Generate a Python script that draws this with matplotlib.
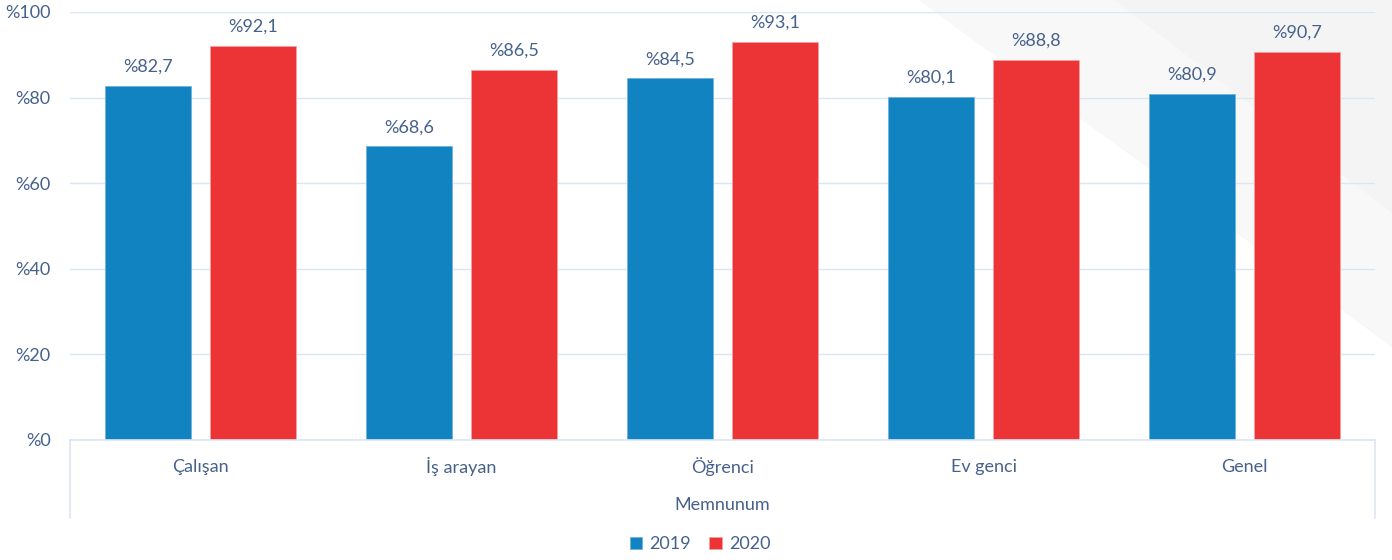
import matplotlib
matplotlib.use("Agg")
import matplotlib.pyplot as plt
import numpy as np
from matplotlib.patches import Polygon

categories = ["Çalışan", "İş arayan", "Öğrenci", "Ev genci", "Genel"]
values_2019 = [82.7, 68.6, 84.5, 80.1, 80.9]
values_2020 = [92.1, 86.5, 93.1, 88.8, 90.7]
years = ["2019", "2020"]
group_label = "Memnunum"

BLUE = "#1283c1"
RED = "#ec3335"
TEXT = "#46618c"
GRID = "#dbe6f4"

plt.rcParams["font.family"] = ["Lato", "DejaVu Sans"]

fig = plt.figure(figsize=(13.92, 5.6), dpi=100, facecolor="white")

# faint diagonal background shapes (top right), behind everything
bg = fig.add_axes([0, 0, 1, 1], zorder=-1)
bg.set_xlim(0, 1)
bg.set_ylim(0, 1)
bg.axis("off")
for pts, col in [
    ([(0.66, 1.0), (0.80, 1.0), (1.0, 0.62), (1.0, 0.38)], "#f8f8f9"),
    ([(0.80, 1.0), (1.0, 1.0), (1.0, 0.62)], "#f4f4f5"),
]:
    bg.add_patch(Polygon(pts, closed=True, facecolor=col, edgecolor="none"))

ax = fig.add_axes([0.0503, 0.2143, 0.9375, 0.7643])
ax.set_facecolor("none")

x = np.arange(len(categories))
w = 0.33
off = 0.2
b1 = ax.bar(x - off, values_2019, w, color=BLUE, edgecolor="#6fb3e0", linewidth=0.6, label=years[0], zorder=3)
b2 = ax.bar(x + off, values_2020, w, color=RED, edgecolor="#f6a0a1", linewidth=0.6, label=years[1], zorder=3)

for bars, vals in [(b1, values_2019), (b2, values_2020)]:
    for rect, v in zip(bars, vals):
        ax.annotate("%" + f"{v:.1f}".replace(".", ","),
                    (rect.get_x() + rect.get_width() / 2, rect.get_height()),
                    xytext=(0, 8), textcoords="offset points",
                    ha="center", va="bottom", fontsize=13, color=TEXT)

ax.set_xlim(-0.5, len(categories) - 0.5)
ax.set_ylim(0, 100)
ax.set_yticks(range(0, 101, 20))
ax.set_yticklabels(["%" + str(t) for t in range(0, 101, 20)], fontsize=13, color=TEXT)
ax.tick_params(axis="y", length=0, pad=14)
ax.set_xticks([])
ax.grid(axis="y", color=GRID, linewidth=1, zorder=0)
for s in ax.spines.values():
    s.set_visible(False)

# category table below the axis
trans = ax.get_xaxis_transform()
ax.plot([-0.5, len(categories) - 0.5], [0, 0], transform=trans, color=GRID, lw=1.2, clip_on=False, zorder=4)
for xv in (-0.5, len(categories) - 0.5):
    ax.plot([xv, xv], [0, -0.183], transform=trans, color=GRID, lw=1.2, clip_on=False)
for xi, c in zip(x, categories):
    ax.text(xi, -0.063, c, transform=trans, ha="center", va="center", fontsize=13, color=TEXT)
ax.text((len(categories) - 1) / 2, -0.152, group_label, transform=trans,
        ha="center", va="center", fontsize=13, color=TEXT)

fig.legend(handles=[b1, b2], labels=years, loc="center", bbox_to_anchor=(0.503, 0.028),
           ncol=2, frameon=False, fontsize=13, labelcolor=TEXT,
           handlelength=0.7, handleheight=0.7, handletextpad=0.4, columnspacing=1.0)

fig.savefig("out.png", dpi=100, facecolor="white")
